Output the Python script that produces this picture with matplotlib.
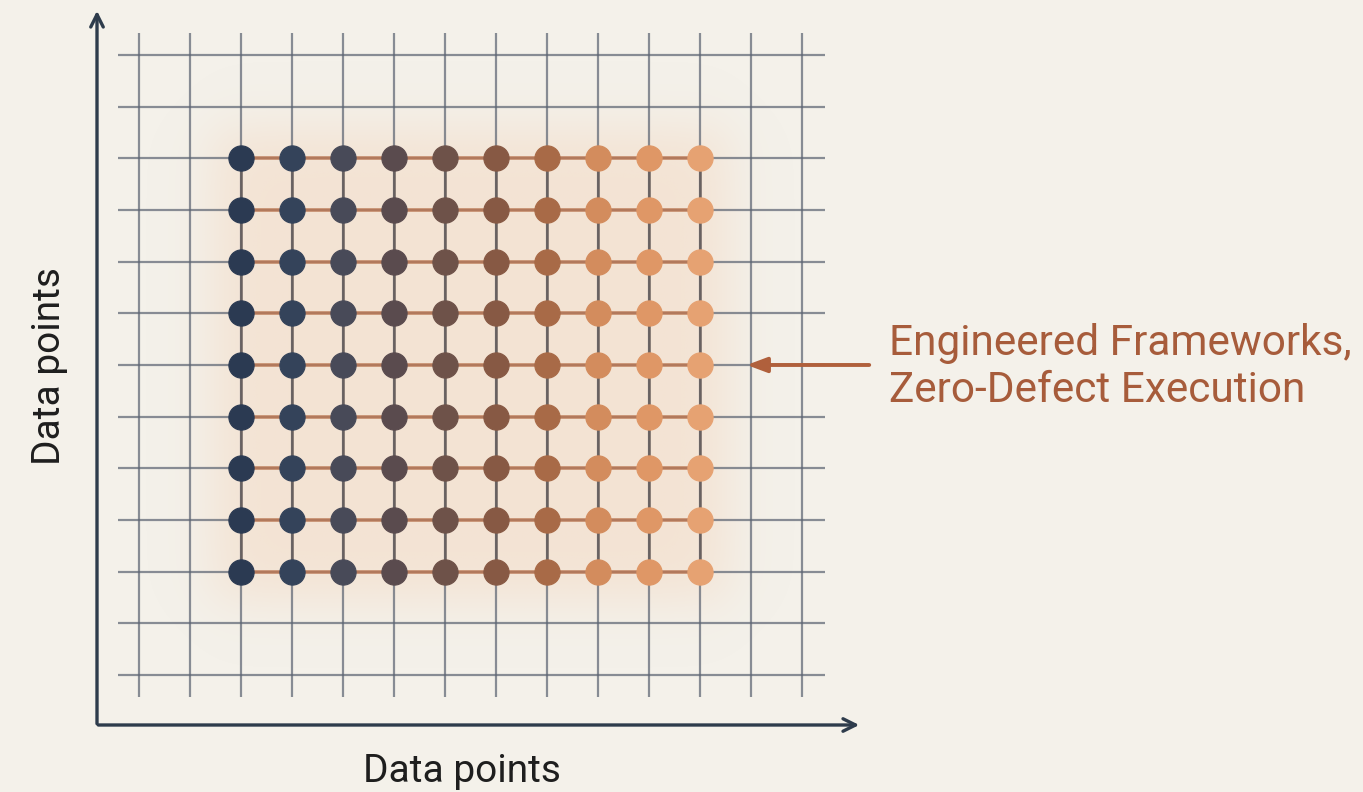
import numpy as np
import matplotlib
matplotlib.use('Agg')
import matplotlib.pyplot as plt
from matplotlib.colors import to_rgb

# grid lines (index positions)
grid_cols = list(range(14))
grid_rows = list(range(13))

# dot lattice (index positions) and colour per column
dot_cols = [2, 3, 4, 5, 6, 7, 8, 9, 10, 11]
dot_rows = [2, 3, 4, 5, 6, 7, 8, 9, 10]
dot_colors = ['#2b3a52', '#34435a', '#484a58', '#5a4b4e', '#6e5249',
              '#875944', '#a86a47', '#d38c5d', '#df9766', '#e6a272']

annotation = 'Engineered Frameworks,\nZero-Defect Execution'
x_label = 'Data points'
y_label = 'Data points'

W, H = 1363, 792
fig = plt.figure(figsize=(W / 100, H / 100), dpi=100)
fig.patch.set_facecolor('#f4f1ea')
ax = fig.add_axes([0, 0, 1, 1])
ax.set_facecolor('#f4f1ea')
ax.axis('off')

# pixel mapping: col c -> 139 + 51*c ; row r (from top) -> 55 + 51.67*r
dx, dy = 51.0, 51.67
ax.set_xlim(-139 / dx, (W - 139) / dx)
ax.set_ylim(-(H - 675) / dy, 675 / dy)

def yv(r):
    return 12 - r

# warm glow behind lattice
gx = np.linspace(0, 13, 600)
gy = np.linspace(0, 12, 600)
GX, GY = np.meshgrid(gx, gy)
def soft(v, a, b, w):
    return 1 / (1 + np.exp(-(v - a) / w)) * 1 / (1 + np.exp((v - b) / w))
mask = soft(GX, 1.45, 11.55, 0.3) * soft(GY, yv(10) - 0.55, yv(2) + 0.55, 0.3)
glow = np.zeros(GX.shape + (4,))
glow[..., :3] = to_rgb('#f2c6a4')
glow[..., 3] = 0.32 * mask
ax.imshow(glow, extent=[0, 13, 0, 12], origin='lower', aspect='auto',
          interpolation='bilinear', zorder=1)

# grey grid
grid_col = '#5d6573'
for c in grid_cols:
    ax.plot([c, c], [yv(12) - 0.43, yv(0) + 0.43], color=grid_col,
            lw=1.6, alpha=0.72, zorder=2, solid_capstyle='butt')
for r in grid_rows:
    ax.plot([-0.41, 13.45], [yv(r), yv(r)], color=grid_col,
            lw=1.6, alpha=0.72, zorder=2, solid_capstyle='butt')

# orange connectors along lattice rows, darker along columns
for r in dot_rows:
    ax.plot([dot_cols[0], dot_cols[-1]], [yv(r), yv(r)],
            color='#bd7650', lw=2.6, alpha=0.8, zorder=3)
for c in dot_cols:
    ax.plot([c, c], [yv(dot_rows[-1]), yv(dot_rows[0])],
            color='#5e5452', lw=2.0, alpha=0.75, zorder=3)

# dots
for i, c in enumerate(dot_cols):
    ax.scatter([c] * len(dot_rows), [yv(r) for r in dot_rows], s=330,
               color=dot_colors[i], edgecolors=dot_colors[i],
               linewidths=0.8, zorder=4)

# axes arrows
ax_col = '#2e3c4c'
x0 = -42 / dx
y0 = -50 / dy
ax.annotate('', xy=(x0, 675 / dy - 8 / dy), xytext=(x0, y0 - 1.5 / dy),
            arrowprops=dict(arrowstyle='->,head_length=0.9,head_width=0.45',
                            color=ax_col, lw=2.4), zorder=5)
ax.annotate('', xy=((862 - 139) / dx, y0), xytext=(x0 - 1.5 / dx, y0),
            arrowprops=dict(arrowstyle='->,head_length=0.9,head_width=0.45',
                            color=ax_col, lw=2.4), zorder=5)

# annotation arrow + text
ann_col = '#a75c3b'
ax.annotate('', xy=((744 - 139) / dx, yv(6)), xytext=((872 - 139) / dx, yv(6)),
            arrowprops=dict(arrowstyle='-|>,head_length=1.2,head_width=0.45',
                            color='#b0603c', lw=2.8), zorder=5)
ax.text((889 - 139) / dx, yv(6) - 2 / dy, annotation, color=ann_col,
        fontsize=30.5, family='Roboto', ha='left', va='center',
        linespacing=1.17, zorder=5)

fig.text(462 / W, 1 - 771 / H, x_label, ha='center', va='center',
         fontsize=28, family='Roboto', color='#1e1e1e')
fig.text(50 / W, 1 - 366 / H, y_label, ha='center', va='center',
         rotation=90, fontsize=28, family='Roboto', color='#1e1e1e')

fig.savefig('out.png', dpi=100, facecolor=fig.get_facecolor())
